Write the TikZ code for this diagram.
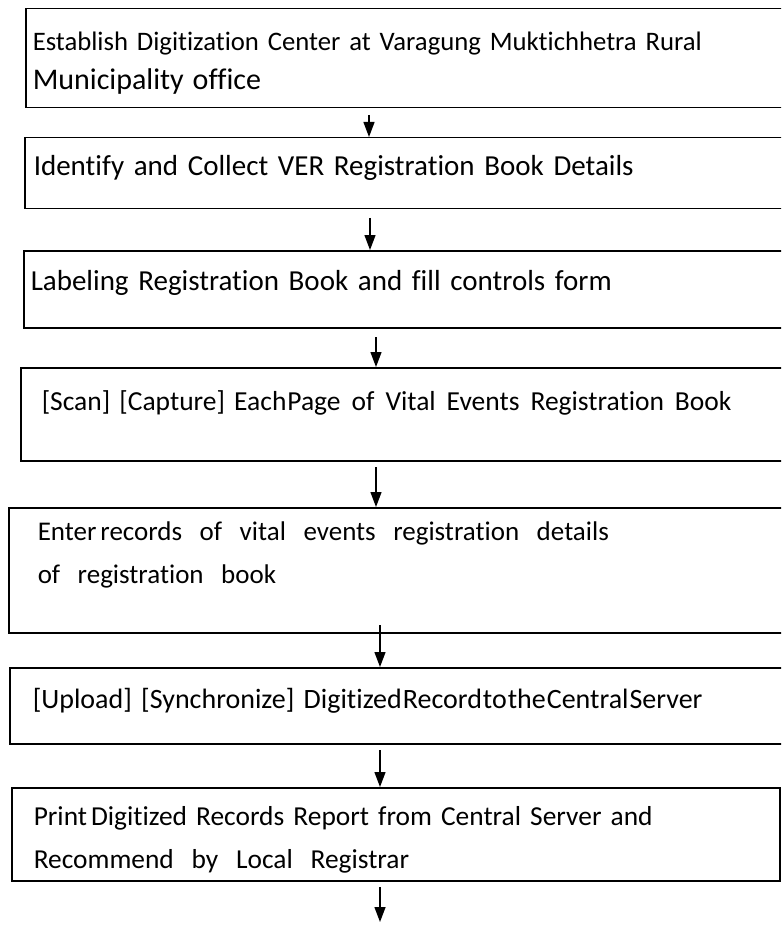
\documentclass[tikz,border=0pt]{standalone}
\usepackage{fontspec}
\setmainfont{Carlito}[Ligatures=NoCommon]
\usetikzlibrary{arrows.meta}
\newcommand{\wgap}{\hspace{0.4em}}
\newcommand{\wwgap}{\hspace{0.65em}}

\begin{document}
\begin{tikzpicture}[
	x=1pt,y=-1pt,
	box/.style={draw,line width=1.5pt,anchor=north west,align=left,inner ysep=0pt,font=\fontsize{29}{43}\selectfont},
	flow/.style={line width=1.3pt,-{Triangle[length=15pt,width=11pt]}}
	]
		\useasboundingbox (0,0) rectangle (781,925);
		\clip (0,0) rectangle (781,925);
		
		\path (25,8) node[box,inner xsep=7pt,text width=751pt,text height=42pt,text depth=57pt,font=\fontsize{26.7}{39}\selectfont] (center) {Establish Digitization Center at Varagung Muktichhetra Rural\\{\fontsize{30}{39}\selectfont Municipality office}};
		\path (24,137) node[box,inner xsep=9pt,text width=748pt,text height=38pt,text depth=33pt] (collect) {Identify and Collect VER Registration Book Details};
		\path (23,250) node[box,inner xsep=7pt,text width=753pt,text height=40pt,text depth=37pt] (label) {Labeling Registration Book and fill controls form};
		\path (20,367) node[box,inner xsep=21pt,text width=728pt,text height=43pt,text depth=50pt,font=\fontsize{27.5}{43}\selectfont] (scan) {[Scan] [Capture] Each\hspace{1pt}Page\wgap of\wgap Vital\wgap Events\wgap Registration\wgap Book};
		\path (8,507) node[box,inner xsep=29pt,text width=724pt,text height=33pt,text depth=92pt,font=\fontsize{27}{43}\selectfont] (enter) {Enter\hspace{4pt}records\wwgap of\wwgap vital\wwgap events\wwgap registration\wwgap details\\of\wwgap registration\wwgap book};
		\path (9,667) node[box,inner xsep=23pt,text width=735pt,text height=41pt,text depth=35pt,font=\fontsize{28}{43}\selectfont] (upload) {[Upload] [Synchronize] Digitized\hspace{1pt}Record\hspace{1pt}to\hspace{1pt}the\hspace{1pt}Central\hspace{1pt}Server};
		\path (11,787) node[box,inner xsep=22pt,text width=724pt,text height=38pt,text depth=55pt,font=\fontsize{27.4}{43}\selectfont] (report) {Print\hspace{4pt}Digitized Records Report from Central Server and\\Recommend\wwgap by\wwgap Local\wwgap Registrar};
		
		% arrows between the steps
		\coordinate (a1) at (369,115);
		\coordinate (a2) at (370,218);
		\coordinate (a3) at (376,337);
		\coordinate (a4) at (376,467);
		\coordinate (a5) at (380,625);
		\coordinate (a6) at (380,750);
		\coordinate (a7) at (380,887);
		\coordinate (next) at (380,922);
		\draw[flow] (a1) -- (a1 |- collect.north);
		\draw[flow] (a2) -- (a2 |- label.north);
		\draw[flow] (a3) -- (a3 |- scan.north);
		\draw[flow] (a4) -- (a4 |- enter.north);
		\draw[flow] (a5) -- (a5 |- upload.north);
		\draw[flow] (a6) -- (a6 |- report.north);
		\draw[flow] (a7) -- (next);
		
	\end{tikzpicture}
\end{document}
